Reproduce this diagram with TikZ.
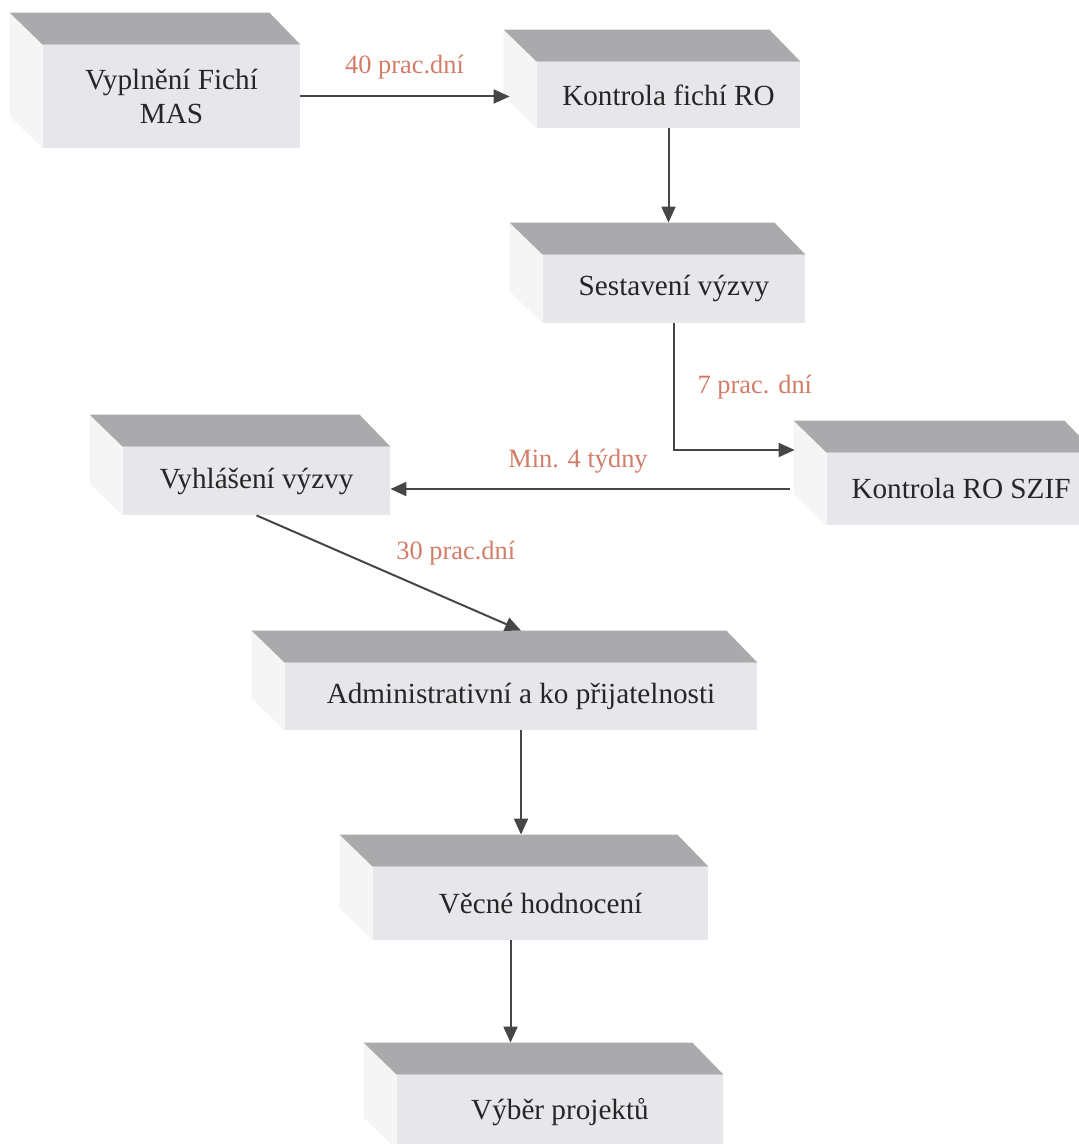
\documentclass[tikz,border=0pt]{standalone}
\usepackage{fontspec}
\setmainfont{Liberation Serif}
\newfontfamily\tms[Extension=.ttf, BoldFont=LiberationSerif-Bold]{LiberationSerif-Regular}
\usepackage{tikz}
\usetikzlibrary{calc}
\usetikzlibrary{arrows.meta}

\definecolor{predni}{HTML}{E7E7EB}
\definecolor{vrchni}{HTML}{AAAAAC}
\definecolor{bocni}{HTML}{F5F5F6}
\definecolor{textova}{HTML}{262626}
\definecolor{lososova}{HTML}{D27D68}
\definecolor{sipkova}{HTML}{464646}

\tikzset{
  krabice/.style={fill=predni, draw=none, text=textova, align=center, inner sep=0pt,
    font=\tms\fontsize{14.6}{17}\selectfont},
  vrch/.style={fill=vrchni},
  bok/.style={fill=bocni},
  strzalka/.style={draw=sipkova, line width=1pt, -{Triangle[length=8pt,width=7pt]}},
  popisek/.style={text=lososova, font=\tms\fontsize{13.2}{15}\selectfont},
}

\begin{document}
\begin{tikzpicture}[x=0.5pt, y=-0.5pt]
\useasboundingbox (0,0) rectangle (1078,1144);

\node[krabice, minimum width=128.5pt, minimum height=51.5pt] (vypl) at (171.5,96.5) {Vyplnění Fichí\\MAS};
\node[krabice, minimum width=131.5pt, minimum height=33pt] (kontrola) at (668.5,95) {Kontrola fichí RO};
\node[krabice, minimum width=131pt, minimum height=34pt] (sestaveni) at (674,289) {Sestavení výzvy};
\node[krabice, minimum width=133.5pt, minimum height=34pt] (vyhlaseni) at (256.5,481) {Vyhlášení výzvy};
\node[krabice, minimum width=134pt, minimum height=36pt] (kontrolaszif) at (961,489) {Kontrola RO SZIF};
\node[krabice, minimum width=236pt, minimum height=33.5pt] (admin) at (521,696.5) {Administrativní a ko přijatelnosti};
\node[krabice, minimum width=167.5pt, minimum height=36.5pt] (vecne) at (540.5,903.5) {Věcné hodnocení};
\node[krabice, minimum width=163pt, minimum height=37pt] (vyber) at (560,1112) {Výběr projektů};

% horni a bocni steny krabic
\foreach \n in {vypl,kontrola,sestaveni,vyhlaseni,kontrolaszif,admin,vecne,vyber} {
  \fill[bok] (\n.north west) -- ++(-33,-32) -- ($(\n.south west)+(-33,-32)$) -- (\n.south west) -- cycle;
  \fill[vrch] (\n.north west) -- ++(-33,-32) -- ($(\n.north east)+(-31,-32)$) -- (\n.north east) -- cycle;
  \coordinate (\n-top) at ($(\n.north)+(0,-32)$);
}

\draw[strzalka, shorten >=13.5pt] (vypl.east) -- (vypl.east -| kontrola.west) node[midway, above=5pt, xshift=-7pt, popisek] {40 prac.dní};
\draw[strzalka] (kontrola.south) -- (kontrola.south |- sestaveni-top);
\draw[strzalka] (sestaveni.south) |- ($(kontrolaszif.west)+(-32,-39)$) node[pos=0.25, right=8pt, popisek] {7 prac. dní};
\draw[strzalka] ($(kontrolaszif.west)+(-37,0)$) -- (vyhlaseni.east |- kontrolaszif.west) node[midway, above=4pt, xshift=-6pt, popisek] {Min. 4 týdny};
\draw[strzalka] (vyhlaseni.south) -- (admin-top) node[midway, above right, popisek] {30 prac.dní};
\draw[strzalka] (admin.south) -- (admin.south |- vecne-top);
\draw[strzalka] ([xshift=-15pt]vecne.south) -- ([xshift=-15pt]vecne.south |- vyber-top);

\end{tikzpicture}
\end{document}
